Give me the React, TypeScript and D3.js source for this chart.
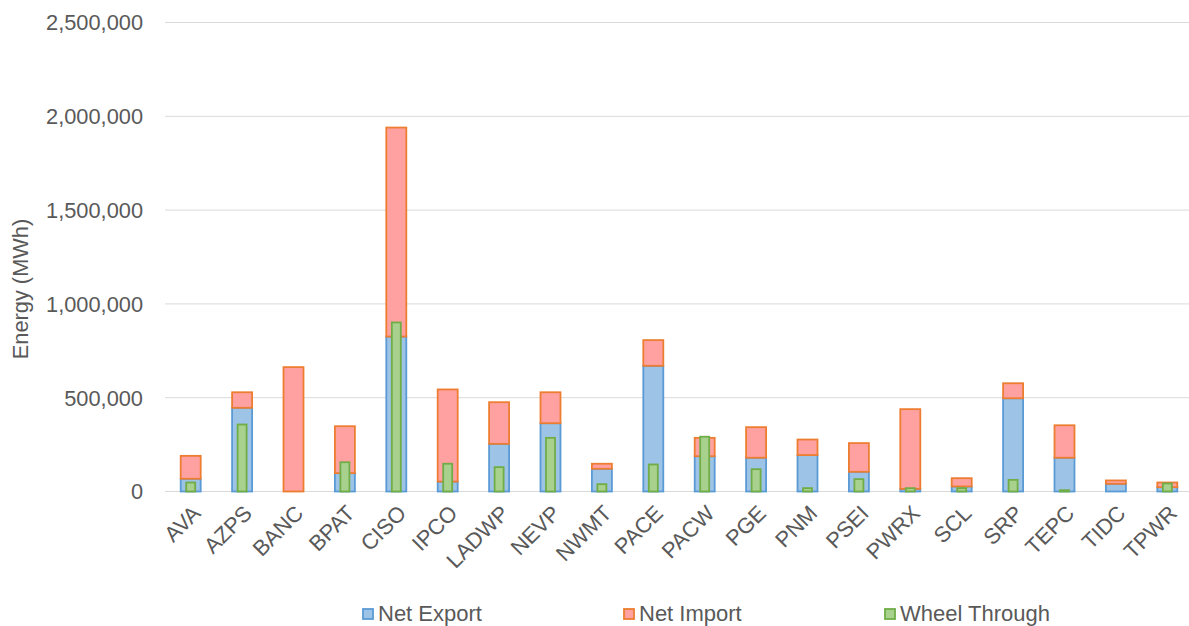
import React from "react";
import * as d3 from "d3";

// Balancing authorities
const categories = [
  "AVA", "AZPS", "BANC", "BPAT", "CISO", "IPCO", "LADWP", "NEVP", "NWMT", "PACE",
  "PACW", "PGE", "PNM", "PSEI", "PWRX", "SCL", "SRP", "TEPC", "TIDC", "TPWR",
];

// Energy in MWh
const netExport = [
  68000, 446000, 0, 98000, 826000, 53000, 254000, 364000, 121000, 670000,
  188000, 180000, 194000, 105000, 14000, 27000, 497000, 180000, 41000, 23000,
];
const netImport = [
  122000, 83000, 663000, 250000, 1114000, 491000, 222000, 165000, 27000, 137000,
  98000, 163000, 83000, 153000, 425000, 44000, 80000, 173000, 18000, 25000,
];
const wheelThrough = [
  48000, 357000, 0, 156000, 901000, 148000, 130000, 286000, 39000, 144000,
  292000, 119000, 18000, 66000, 18000, 18000, 62000, 7000, 0, 43000,
];

const yTicks = [0, 500000, 1000000, 1500000, 2000000, 2500000];

const W = 1189;
const H = 626;
const plot = { left: 165, right: 1193, top: 22.5, bottom: 491.5 };

const FONT = "'Liberation Sans', Arial, sans-serif";
const TEXT = "#595959";

const series = [
  { name: "Net Export", fill: "#9DC3E6", stroke: "#5B9BD5" },
  { name: "Net Import", fill: "#FFA1A1", stroke: "#ED7D31" },
  { name: "Wheel Through", fill: "#A9D18E", stroke: "#70AD47" },
];

export default function App() {
  const x = d3.scaleBand<string>().domain(categories).range([plot.left, plot.right]).paddingInner(0).paddingOuter(0);
  const y = d3.scaleLinear().domain([0, 2500000]).range([plot.bottom, plot.top]);
  const fmt = d3.format(",");

  const bw = 20;
  const gw = 9;
  const sw = 1.8;

  const legendX = [362, 623, 884];

  return (
    <svg
      width={W}
      height={H}
      style={{ position: "fixed", left: 0, top: 0, background: "#fff" }}
      fontFamily={FONT}
    >
      <rect x={0} y={0} width={W} height={H} fill="#fff" />
      {yTicks.map((t) => (
        <g key={t}>
          <line x1={plot.left} x2={plot.right} y1={y(t)} y2={y(t)} stroke="#D9D9D9" strokeWidth={1} />
          <text x={143} y={y(t)} dy="0.36em" textAnchor="end" fontSize={21.8} fill={TEXT}>
            {fmt(t)}
          </text>
        </g>
      ))}

      {categories.map((c, i) => {
        const cx = (x(c) as number) + x.bandwidth() / 2;
        const e = netExport[i];
        const im = netImport[i];
        const w = wheelThrough[i];
        return (
          <g key={c}>
            {e > 0 && (
              <rect
                x={cx - bw / 2}
                y={y(e)}
                width={bw}
                height={y(0) - y(e)}
                fill={series[0].fill}
                stroke={series[0].stroke}
                strokeWidth={sw}
              />
            )}
            {im > 0 && (
              <rect
                x={cx - bw / 2}
                y={y(e + im)}
                width={bw}
                height={y(e) - y(e + im)}
                fill={series[1].fill}
                stroke={series[1].stroke}
                strokeWidth={sw}
              />
            )}
            {w > 0 && (
              <rect
                x={cx - gw / 2}
                y={y(w)}
                width={gw}
                height={y(0) - y(w)}
                fill={series[2].fill}
                stroke={series[2].stroke}
                strokeWidth={sw}
              />
            )}
            <text
              transform={`translate(${cx},${plot.bottom + 12}) rotate(-45)`}
              dy="0.72em"
              textAnchor="end"
              fontSize={21.8}
              fill={TEXT}
            >
              {c}
            </text>
          </g>
        );
      })}

      <text
        transform={`translate(27.5,289) rotate(-90)`}
        textAnchor="middle"
        fontSize={21.8}
        fill={TEXT}
      >
        Energy (MWh)
      </text>

      {series.map((s, i) => (
        <g key={s.name}>
          <rect
            x={legendX[i] + 1}
            y={609}
            width={10}
            height={10}
            fill={s.fill}
            stroke={s.stroke}
            strokeWidth={1.8}
          />
          <text x={legendX[i] + 16} y={621} fontSize={22} fill={TEXT}>
            {s.name}
          </text>
        </g>
      ))}
    </svg>
  );
}
